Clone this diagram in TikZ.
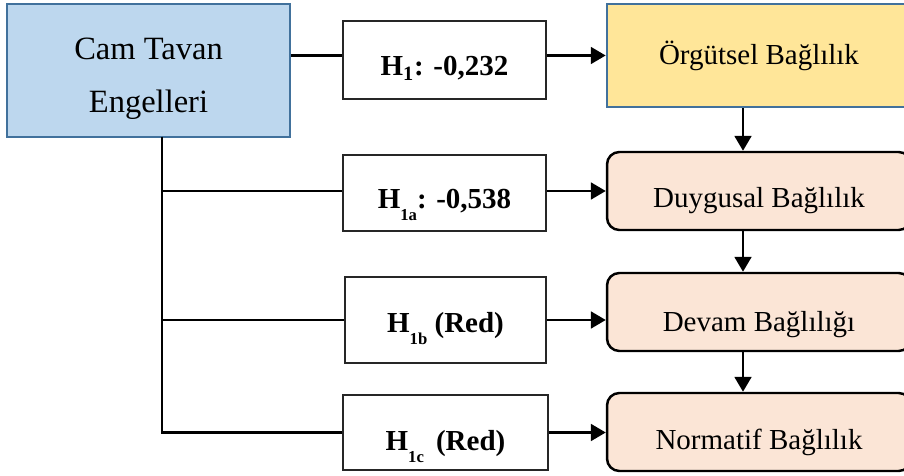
\documentclass[tikz,border=0pt]{standalone}
\usepackage{fontspec}
\setmainfont{Liberation Serif}
\usepackage{xcolor}
\usetikzlibrary{arrows.meta,positioning}
\definecolor{camfill}{HTML}{BDD7EE}
\definecolor{orgfill}{HTML}{FFE699}
\definecolor{dimfill}{HTML}{FBE5D6}
\definecolor{edgeblue}{HTML}{41719C}
\newcommand{\hsub}[1]{\raisebox{-0.42em}{\fontsize{9.5}{10}\selectfont #1}}

\begin{document}
\begin{tikzpicture}[
  x=0.02cm,y=-0.02cm,
  driver/.style={draw=edgeblue,line width=1.5pt,fill=camfill,align=center,inner sep=0pt,
                 text height=51.5pt,
                 minimum width=5.66cm,minimum height=2.66cm,font=\fontsize{18.5}{30}\selectfont},
  outcome/.style={draw=edgeblue,line width=1.5pt,fill=orgfill,inner sep=0pt,
                  minimum width=6.4cm,minimum height=2.06cm,font=\fontsize{16.5}{20}\selectfont},
  dimbox/.style={draw,rounded corners=7pt,line width=1.4pt,fill=dimfill,inner sep=0pt,
                 text height=19pt,text depth=0pt,
                 minimum width=6.08cm,minimum height=1.56cm,font=\fontsize{16.5}{20}\selectfont},
  hyp/.style={draw=black!85,line width=1pt,fill=white,inner sep=0pt,
              text height=18pt,text depth=0pt,
              minimum width=4.06cm,minimum height=1.56cm,font=\fontsize{16.5}{20}\selectfont\bfseries},
  link/.style={line width=1.6pt},
  flow/.style={-{Triangle[length=8.5pt,width=9.5pt]},line width=1.6pt}
]
\useasboundingbox (0,0) rectangle (904,476);

% left driver and hypothesis boxes
\node[driver] (cam) at (148.5,70.5) {Cam Tavan\\Engelleri};
\node[hyp] (h1) at (444.5,60) {H\textsubscript{1}: -0,232};
\node[hyp,minimum height=1.52cm] (h1a) at (444.5,193) {H\hsub{1a}: -0,538};
\node[hyp,minimum width=4.02cm,minimum height=1.72cm,text height=14pt] (h1b) at (445.5,320) {H\hsub{1b} (Red)};
\node[hyp,minimum width=4.1cm,minimum height=1.5cm,text height=20pt] (h1c) at (445.5,432.5) {H\hsub{1c}\, (Red)};

% commitment boxes
\node[outcome] (org) at (767,55.5) {Örgütsel Bağlılık\kern0.32cm};
\node[dimbox] (duy) at (759,191) {Duygusal Bağlılık};
\node[dimbox,text height=22pt] (devam) at (759,312) {Devam Bağlılığı};
\node[dimbox,text height=20pt] (norm) at (759,432) {Normatif Bağlılık};

\coordinate (bus) at (162,137);
\coordinate (spine) at (743,0);

\draw[link] (cam.east |- org.west) -- (h1.west |- org.west);
\draw[flow] (h1.east |- org.west) -- (org.west);
\draw[link] (bus) |- (h1a.west |- duy.west);
\draw[flow] (h1a.east |- duy.west) -- (duy.west);
\draw[link] (bus) |- (h1b.west);
\draw[flow] (h1b.east) -- (devam.west |- h1b.east);
\draw[link] (bus) |- (h1c.west);
\draw[flow] (h1c.east) -- (norm.west |- h1c.east);

\draw[flow] (org.south -| spine) -- (duy.north -| spine);
\draw[flow] (duy.south -| spine) -- (devam.north -| spine);
\draw[flow] (devam.south -| spine) -- (norm.north -| spine);
\end{tikzpicture}
\end{document}
